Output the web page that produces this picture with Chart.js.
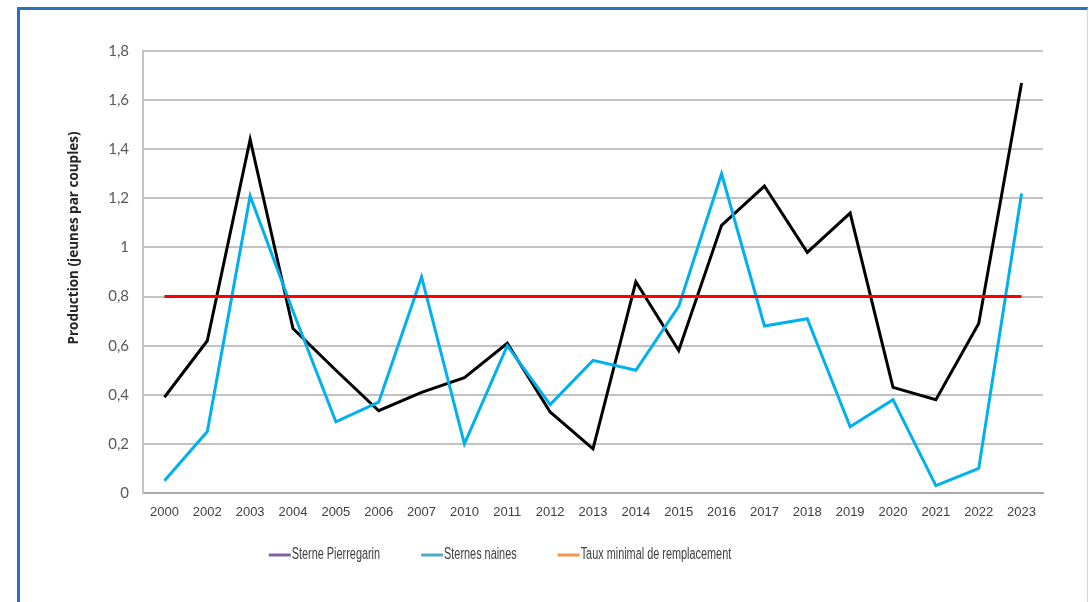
<!DOCTYPE html>
<html>
<head>
<meta charset="utf-8">
<script src="https://cdn.jsdelivr.net/npm/chart.js@4.4.1/dist/chart.umd.min.js"></script>
<style>
  body { margin: 0; width: 1089px; height: 602px; overflow: hidden; background: #fff; position: relative; }
  #frame {
    position: absolute; left: 17px; top: 7px; width: 1067px; height: 640px;
    border-top: 3px solid #2a72bf; border-left: 3px solid #2a72bf; border-right: 1px solid #d4d4d4;
  }
  #wrap { position: absolute; left: 0; top: 0; width: 1089px; height: 602px; }
</style>
</head>
<body>
<div id="frame"></div>
<div id="wrap"><canvas id="prodChart" width="1089" height="602"></canvas></div>
<script>
// ----------- DATA -----------
const years = ['2000', '2002', '2003', '2004', '2005', '2006', '2007', '2010', '2011', '2012', '2013',
               '2014', '2015', '2016', '2017', '2018', '2019', '2020', '2021', '2022', '2023'];
const pierregarin = [0.39, 0.62, 1.44, 0.67, 0.50, 0.335, 0.41, 0.47, 0.61, 0.33, 0.18,
                     0.86, 0.58, 1.09, 1.25, 0.98, 1.14, 0.43, 0.38, 0.69, 1.67];
const naines = [0.05, 0.25, 1.21, 0.74, 0.29, 0.37, 0.88, 0.20, 0.60, 0.36, 0.54,
                0.50, 0.76, 1.30, 0.68, 0.71, 0.27, 0.38, 0.03, 0.10, 1.22];
const tauxMinimal = [0.8, 0.8, 0.8, 0.8, 0.8, 0.8, 0.8, 0.8, 0.8, 0.8, 0.8,
                     0.8, 0.8, 0.8, 0.8, 0.8, 0.8, 0.8, 0.8, 0.8, 0.8];
const seriesNames = ['Sterne Pierregarin', 'Sternes naines', 'Taux minimal de remplacement'];
const legendColors = ['#8064a2', '#4bacc6', '#f79646']; // legend swatches differ from the lines
const yTitle = 'Production (jeunes par couples)';

// ----------- PLUGINS -----------
// y title sits a bit above the plot centre, so draw it by hand
const yTitlePlugin = {
  id: 'yTitle',
  afterDraw(chart) {
    const ctx = chart.ctx;
    ctx.save();
    ctx.translate(74, 238);
    ctx.rotate(-Math.PI / 2);
    ctx.font = 'bold 13.5px "Open Sans"';
    ctx.fillStyle = '#262626';
    ctx.textAlign = 'center';
    ctx.textBaseline = 'middle';
    ctx.fillText(yTitle, 0, 0);
    ctx.restore();
  }
};

// narrow legend at the bottom
const legendPlugin = {
  id: 'bottomLegend',
  afterDraw(chart) {
    const ctx = chart.ctx;
    const squeeze = 0.68;
    const gap = 41;
    const y = 555;
    ctx.save();
    ctx.font = '16px "Liberation Sans", Arial';
    const widths = seriesNames.map(n => 23 + ctx.measureText(n).width * squeeze);
    const total = widths.reduce((a, b) => a + b, 0) + gap * (widths.length - 1);
    let x = 500 - total / 2;
    seriesNames.forEach((name, i) => {
      ctx.fillStyle = legendColors[i];
      ctx.fillRect(x, y - 1.5, 22, 3);
      ctx.save();
      ctx.translate(x + 23, y);
      ctx.scale(squeeze, 1);
      ctx.fillStyle = '#404040';
      ctx.textBaseline = 'middle';
      ctx.fillText(name, 0, 0);
      ctx.restore();
      x += widths[i] + gap;
    });
    ctx.restore();
  }
};

// ----------- CHART -----------
const ctx = document.getElementById('prodChart').getContext('2d');
const prodChart = new Chart(ctx, {
  type: 'line',
  data: {
    labels: years,
    datasets: [
      { label: seriesNames[0], data: pierregarin, borderColor: '#000000', borderWidth: 3, order: 2 },
      { label: seriesNames[1], data: naines, borderColor: '#00b0f0', borderWidth: 3, order: 1 },
      { label: seriesNames[2], data: tauxMinimal, borderColor: '#ff0000', borderWidth: 3, order: 0 }
    ]
  },
  options: {
    responsive: false,
    animation: false,
    elements: {
      point: { radius: 0, hoverRadius: 0 },
      line: { tension: 0, fill: false, borderJoinStyle: 'miter' }
    },
    layout: { padding: { left: 0, top: 51, right: 46, bottom: 69 } },
    plugins: { legend: { display: false }, tooltip: { enabled: false } },
    scales: {
      x: {
        offset: true,
        grid: { display: false, drawTicks: false },
        border: { display: true, color: '#aaaaaa', width: 2 },
        ticks: {
          padding: 12, maxRotation: 0, autoSkip: false,
          color: '#404040', font: { family: '"Liberation Sans", Arial', size: 13 }
        },
        afterFit(scale) { scale.height = 40; }
      },
      y: {
        min: 0, max: 1.8,
        grid: { color: '#c2c2c2', lineWidth: 2, drawTicks: false },
        border: { display: true, color: '#c2c2c2', width: 2 },
        ticks: {
          stepSize: 0.2, padding: 14,
          color: '#595959', font: { family: 'Lato', size: 15 },
          callback: v => String(Math.round(v * 10) / 10).replace('.', ',')
        },
        afterFit(scale) { scale.width = 143; }
      }
    }
  },
  plugins: [yTitlePlugin, legendPlugin]
});
</script>
</body>
</html>
